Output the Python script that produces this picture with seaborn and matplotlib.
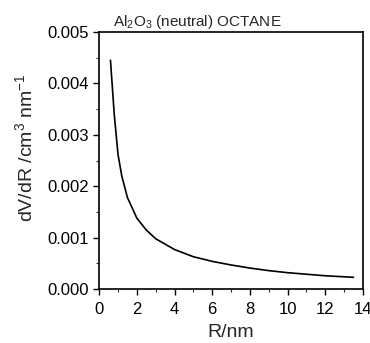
import matplotlib
matplotlib.use("Agg")
import matplotlib.pyplot as plt
import seaborn as sns
import pandas as pd
from matplotlib.ticker import MultipleLocator

sns.set_theme(style="ticks")
plt.rcParams['font.family'] = ['Liberation Sans', 'DejaVu Sans']
plt.rcParams['mathtext.fontset'] = 'custom'
plt.rcParams['mathtext.rm'] = 'Liberation Sans'
plt.rcParams['mathtext.it'] = 'Liberation Sans'

R_nm = [0.6, 0.8, 1.0, 1.2, 1.5, 2.0, 2.5, 3.0, 4.0, 5.0, 6.0, 7.0, 8.0, 9.0, 10.0, 11.0, 12.0, 13.0, 13.5]
dVdR = [0.00445, 0.0034, 0.00262, 0.0022, 0.00178, 0.00138, 0.00115, 0.00098, 0.00077, 0.00063,
        0.00054, 0.00047, 0.00041, 0.00036, 0.00032, 0.00029, 0.00026, 0.00024, 0.00023]
title = r"Al$_2$O$_3$ (neutral) OCTANE"
xticks = [0, 2, 4, 6, 8, 10, 12, 14]
yticks = [0.000, 0.001, 0.002, 0.003, 0.004, 0.005]

df = pd.DataFrame({"R": R_nm, "v": dVdR})

fig = plt.figure(figsize=(3.7, 3.43), dpi=100)
ax = fig.add_axes([0.268, 0.157, 0.713, 0.75])
sns.lineplot(data=df, x="R", y="v", ax=ax, color="black", linewidth=1.2)

ax.set_xlim(0, 14)
ax.set_ylim(0, 0.005)
ax.set_xticks(xticks)
ax.set_yticks(yticks)
ax.set_yticklabels([f"{t:.3f}" for t in yticks])
ax.xaxis.set_minor_locator(MultipleLocator(1))
ax.yaxis.set_minor_locator(MultipleLocator(0.0005))
ax.tick_params(which="major", direction="out", length=4, width=1, labelsize=12, colors="black")
ax.tick_params(axis="x", which="major", pad=5)
ax.tick_params(which="minor", direction="out", length=2.5, width=0.8)
for s in ax.spines.values():
    s.set_linewidth(1.2)
    s.set_color("black")
    s.set_visible(True)

ax.set_xlabel("R/nm", fontsize=14, labelpad=5)
ax.set_ylabel(r"dV/dR /cm$^3$ nm$^{-1}$", fontsize=14)
ax.yaxis.set_label_coords(-0.24, 0.55)
ax.set_title(title, fontsize=11, x=0.37, pad=4)

fig.savefig("out.png", dpi=100)
